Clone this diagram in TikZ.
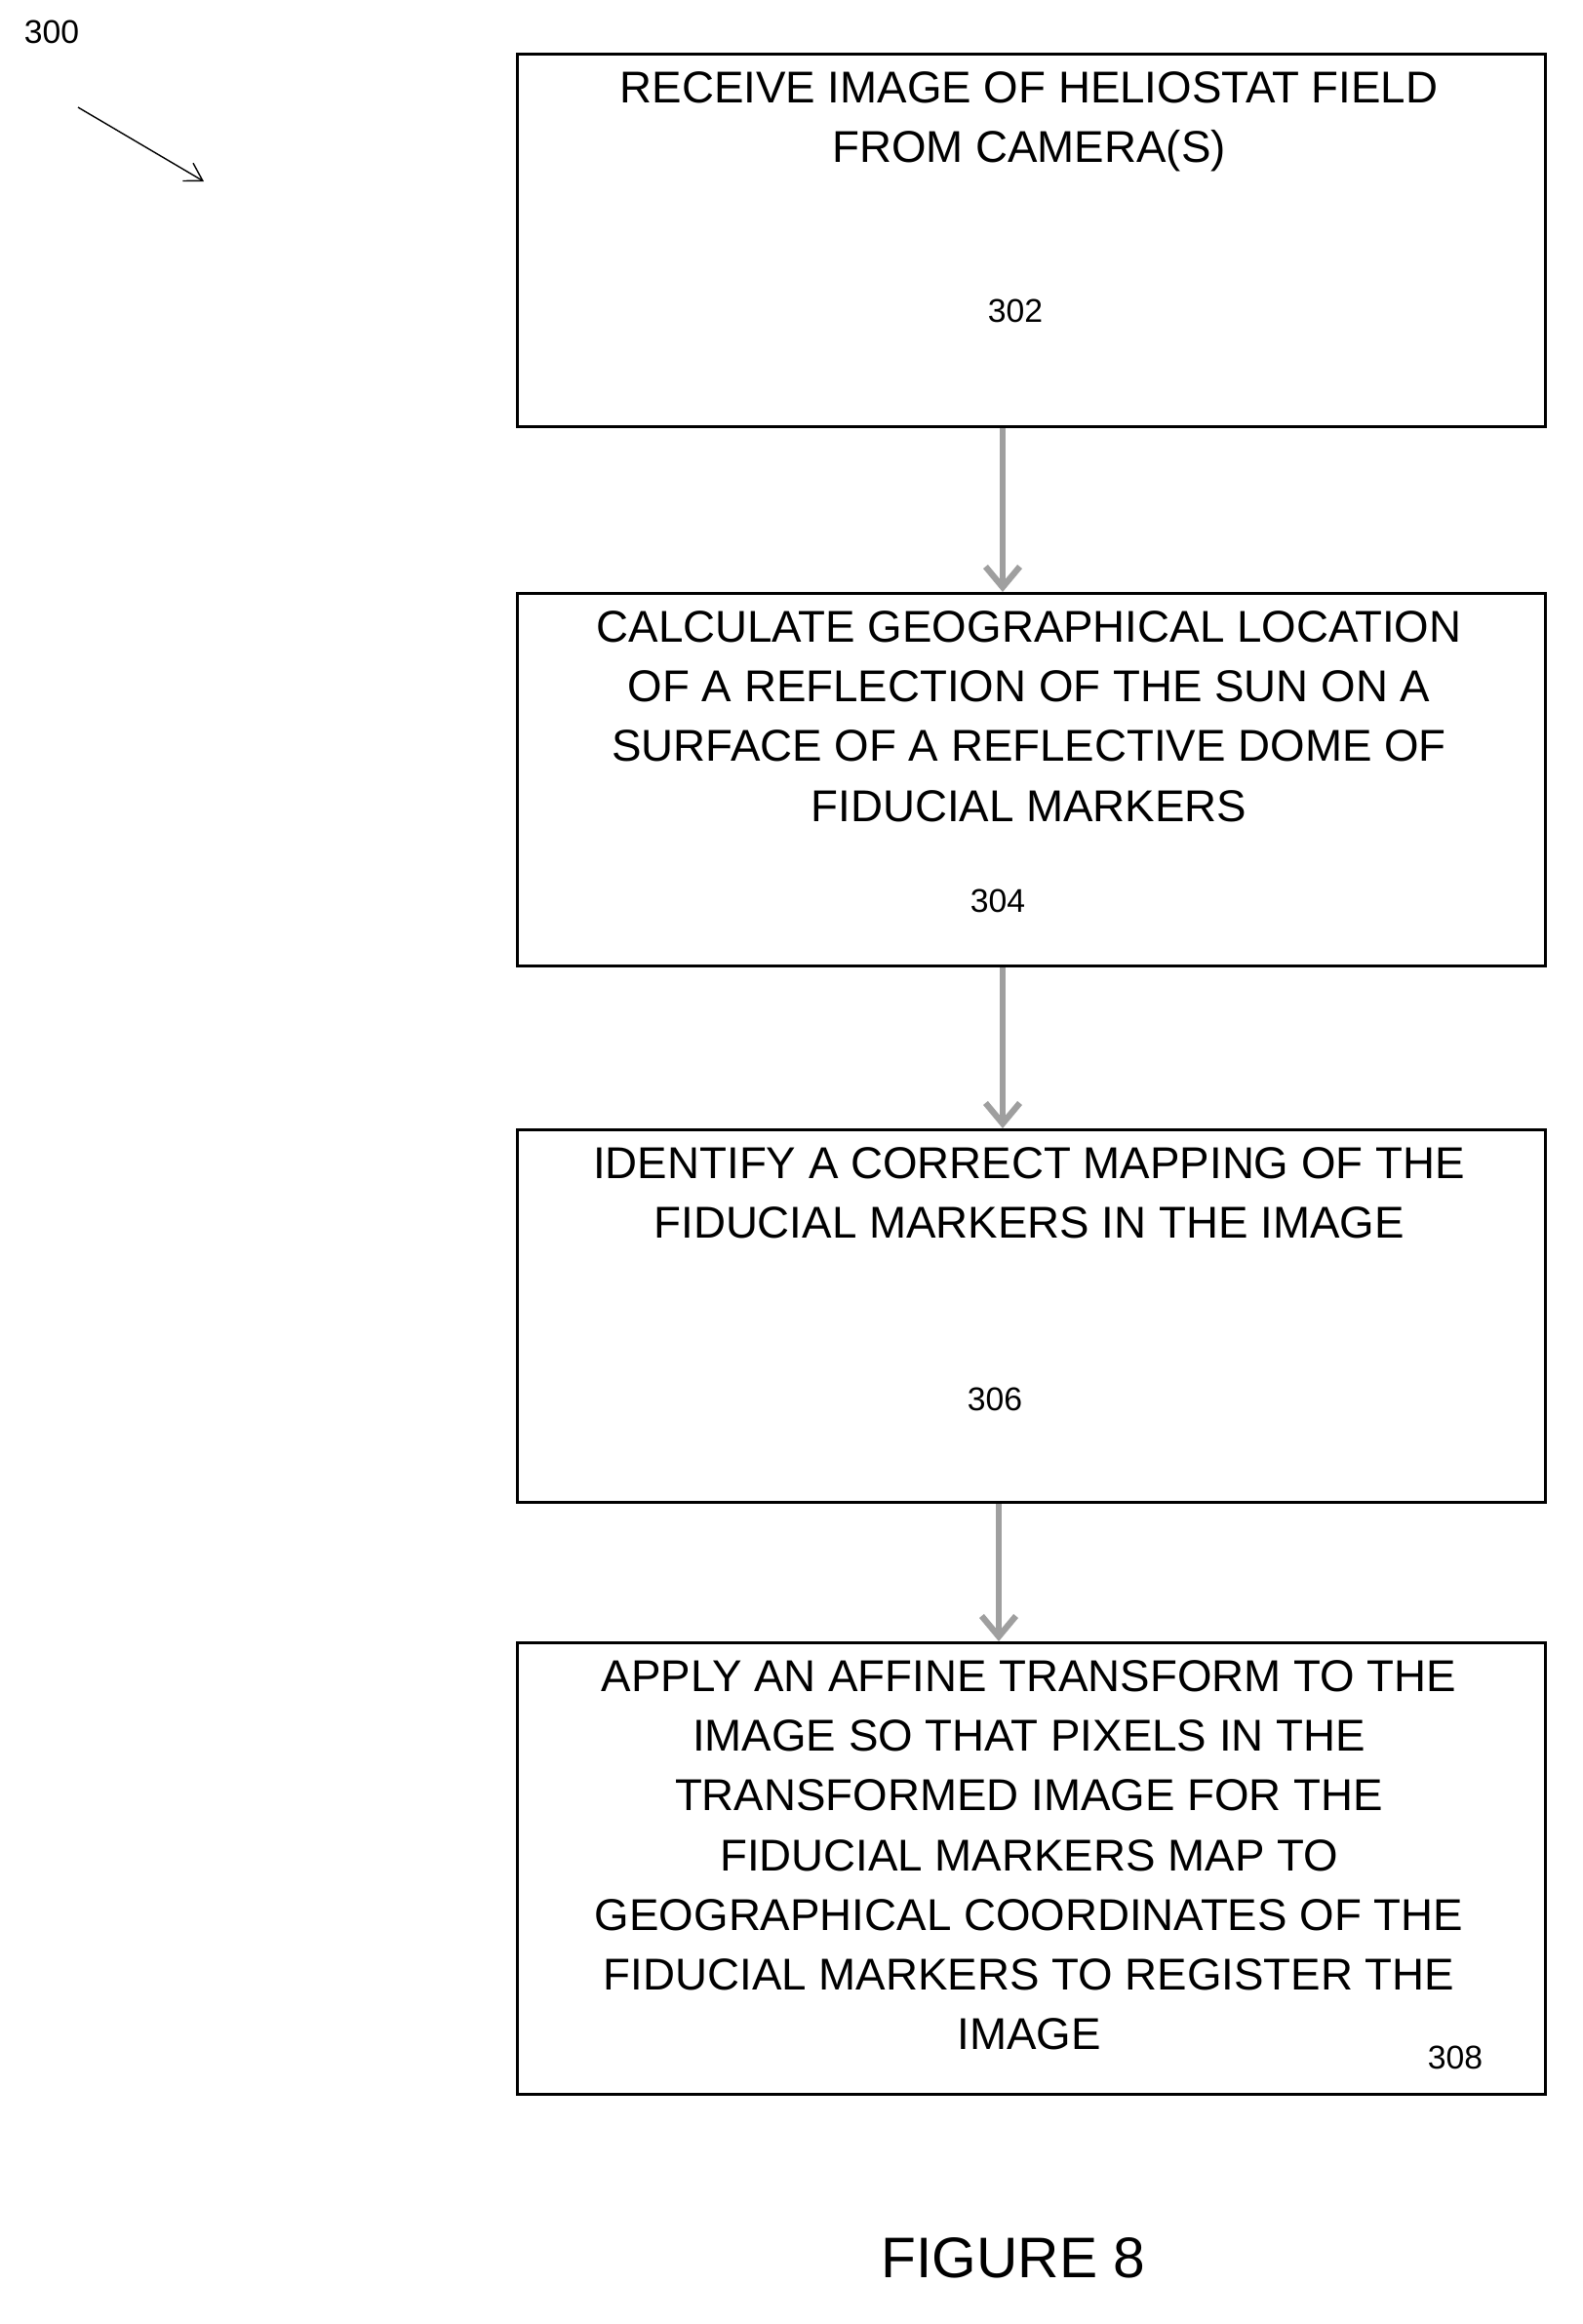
\documentclass[tikz,border=0pt]{standalone}
\usepackage{fontspec}
\setmainfont{Liberation Sans}
\usetikzlibrary{arrows.meta,positioning}
\tikzset{
  stepbox/.style={draw,line width=0.9pt,minimum width=10.54cm,anchor=north west,inner sep=0pt},
  steptext/.style={anchor=north,align=center,font=\fontsize{13}{17.4}\selectfont,inner sep=0pt},
  num/.style={font=\fontsize{9.6}{11}\selectfont,inner sep=0pt},
  flow/.style={draw=gray!75,line width=1.8pt,-{Straight Barb[length=6pt,width=10pt,line width=1.8pt]}}
}
\begin{document}
\begin{tikzpicture}[x=1cm,y=-1cm]
  \useasboundingbox (0,0) rectangle (16.23,23.83);
  % steps
  \node[stepbox,minimum height=3.82cm] (s302) at (5.29,0.54) {};
  \node[stepbox,minimum height=3.82cm] (s304) at (5.29,6.07) {};
  \node[stepbox,minimum height=3.82cm] (s306) at (5.29,11.57) {};
  \node[stepbox,minimum height=4.63cm] (s308) at (5.29,16.83) {};
  \node[steptext] (t302) at (10.55,0.73) {RECEIVE IMAGE OF HELIOSTAT FIELD\\FROM CAMERA(S)};
  \node[steptext] (t304) at (10.55,6.26) {CALCULATE GEOGRAPHICAL LOCATION\\OF A REFLECTION OF THE SUN ON A\\SURFACE OF A REFLECTIVE DOME OF\\FIDUCIAL MARKERS};
  \node[steptext] (t306) at (10.55,11.76) {IDENTIFY A CORRECT MAPPING OF THE\\FIDUCIAL MARKERS IN THE IMAGE};
  \node[steptext] (t308) at (10.55,17.02) {APPLY AN AFFINE TRANSFORM TO THE\\IMAGE SO THAT PIXELS IN THE\\TRANSFORMED IMAGE FOR THE\\FIDUCIAL MARKERS MAP TO\\GEOGRAPHICAL COORDINATES OF THE\\FIDUCIAL MARKERS TO REGISTER THE\\IMAGE};
  \node[num] (n302) at (10.41,3.19) {302};
  \node[num] (n304) at (10.23,9.24) {304};
  \node[num] (n306) at (10.20,14.35) {306};
  \node[num] (n308) at (14.92,21.10) {308};
  % connectors
  \draw[flow] (s302.south -| 10.28,0) -- (s304.north -| 10.28,0);
  \draw[flow] (s304.south -| 10.28,0) -- (s306.north -| 10.28,0);
  \draw[flow] (s306.south -| 10.24,0) -- (s308.north -| 10.24,0);
  % figure label
  \node[num] (n300) at (0.53,0.33) {300};
  \coordinate (a300) at (0.80,1.10);
  \coordinate (b300) at (2.09,1.86);
  \draw[-{Straight Barb[length=5pt,width=6pt]},line width=0.4pt] (a300) -- (b300);
  \node[font=\fontsize{16.7}{20}\selectfont,inner sep=0pt] (fig) at (10.39,23.15) {FIGURE 8};
\end{tikzpicture}
\end{document}
